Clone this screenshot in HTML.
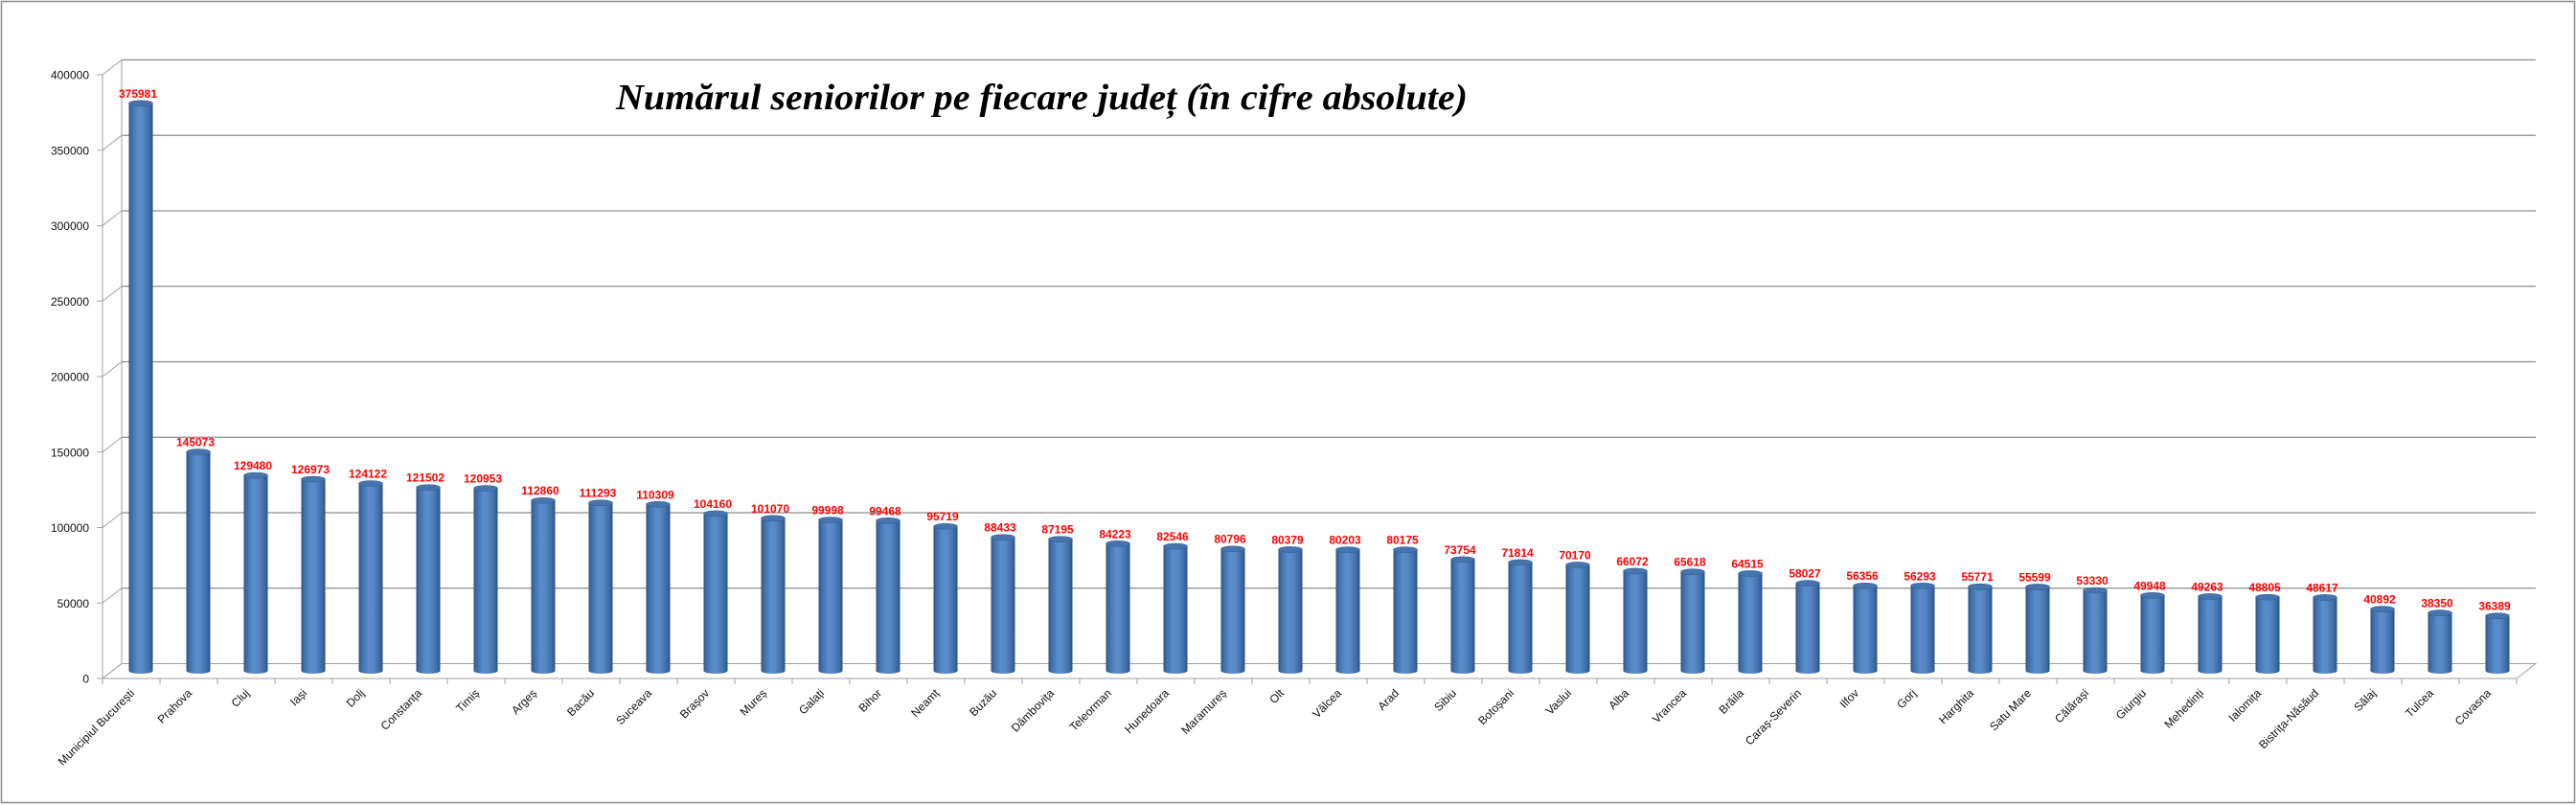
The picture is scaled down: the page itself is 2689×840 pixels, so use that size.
<!DOCTYPE html>
<html><head><meta charset="utf-8"><style>
body{margin:0;background:#fff}
svg{display:block}
</style></head><body>
<svg id="s" width="2689" height="840" xmlns="http://www.w3.org/2000/svg">
<defs>
<linearGradient id="g" x1="0" x2="1" y1="0" y2="0">
<stop offset="0" stop-color="#2c5386"/><stop offset="0.12" stop-color="#3f6ea9"/>
<stop offset="0.4" stop-color="#5a8dcc"/><stop offset="0.6" stop-color="#5687c6"/>
<stop offset="0.88" stop-color="#3d6aa3"/><stop offset="1" stop-color="#2a4f80"/>
</linearGradient>
</defs>
<rect x="1.5" y="1.5" width="2686" height="836" fill="#fff" stroke="#8c8c8c" stroke-width="1.5"/>
<g id="grid"></g>
<text x="643" y="114" textLength="889" lengthAdjust="spacingAndGlyphs" font-family="Liberation Serif, serif" font-style="italic" font-weight="bold" font-size="38">Numărul seniorilor pe fiecare județ (în cifre absolute)</text>
<g id="bars"></g>
</svg>
<script>
const d=[["Municipiul București",375981],["Prahova",145073],["Cluj",129480],["Iași",126973],["Dolj",124122],["Constanța",121502],["Timiș",120953],["Argeș",112860],["Bacău",111293],["Suceava",110309],["Brașov",104160],["Mureș",101070],["Galați",99998],["Bihor",99468],["Neamț",95719],["Buzău",88433],["Dâmbovița",87195],["Teleorman",84223],["Hunedoara",82546],["Maramureș",80796],["Olt",80379],["Vâlcea",80203],["Arad",80175],["Sibiu",73754],["Botoșani",71814],["Vaslui",70170],["Alba",66072],["Vrancea",65618],["Brăila",64515],["Caraș-Severin",58027],["Ilfov",56356],["Gorj",56293],["Harghita",55771],["Satu Mare",55599],["Călărași",53330],["Giurgiu",49948],["Mehedinți",49263],["Ialomița",48805],["Bistrița-Năsăud",48617],["Sălaj",40892],["Tulcea",38350],["Covasna",36389]];
let g='',b='';
const FL=107,BL=127,BR=2647,FR=2627,S=78.75,FB=708,BB=692.5;
g+=`<polygon points="${FL},${FB} ${FR},${FB} ${BR},${BB} ${BL},${BB}" fill="#fff" stroke="#a0a0a0"/>`;
for(let i=0;i<=8;i++){const y=BB-i*S, yf=FB-i*S;
 if(i>0)g+=`<line x1="${BL}" y1="${y}" x2="${BR}" y2="${y}" stroke="#8c8c8c" stroke-width="1.2"/>`;
 g+=`<line x1="${FL}" y1="${yf}" x2="${BL}" y2="${y}" stroke="#a0a0a0"/>`;
 g+=`<line x1="101" y1="${yf}" x2="${FL}" y2="${yf}" stroke="#a0a0a0"/>`;
 g+=`<text x="93" y="${yf+4.5}" text-anchor="end" font-family="Liberation Sans,sans-serif" font-size="12" fill="#111">${i*50000}</text>`;}
g+=`<line x1="${BL}" y1="${BB-8*S}" x2="${BL}" y2="${BB}" stroke="#a0a0a0"/><line x1="${FL}" y1="${FB-8*S}" x2="${FL}" y2="${FB}" stroke="#a0a0a0"/>`;
for(let i=0;i<=42;i++){const x=FL+i*60;g+=`<line x1="${x}" y1="${FB}" x2="${x}" y2="${FB+6}" stroke="#a0a0a0"/>`;}
d.forEach((e,i)=>{const cx=FL+i*60+40,w=25,base=700,top=base-e[1]*S/50000;
 b+=`<rect x="${cx-w/2}" y="${top}" width="${w}" height="${base-top}" fill="url(#g)"/>`;
 b+=`<ellipse cx="${cx}" cy="${base}" rx="${w/2}" ry="3" fill="url(#g)"/>`;
 b+=`<ellipse cx="${cx}" cy="${top}" rx="${w/2}" ry="3" fill="#4774ad" stroke="#34609a" stroke-width="0.6"/>`;
 b+=`<text x="${cx-3}" y="${top-6}" text-anchor="middle" font-family="Liberation Sans,sans-serif" font-weight="bold" font-size="12" fill="#ff0000">${e[1]}</text>`;
 const lx=FL+i*60+34,ly=724;
 b+=`<text transform="translate(${lx},${ly}) rotate(-45)" text-anchor="end" font-family="Liberation Sans,sans-serif" font-size="12" fill="#111">${e[0]}</text>`;});
document.getElementById('grid').innerHTML=g;document.getElementById('bars').innerHTML=b;
</script>
</body></html>
